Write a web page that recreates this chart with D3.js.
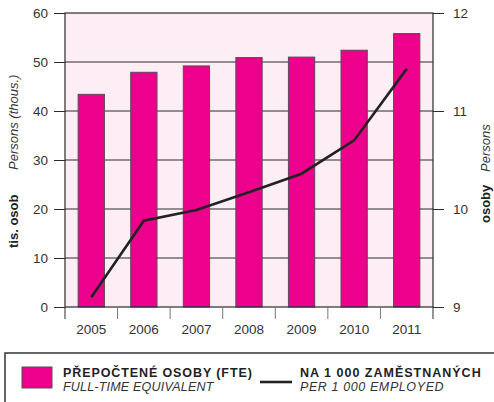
<!DOCTYPE html>
<html>
<head>
<meta charset="utf-8">
<script src="https://cdn.jsdelivr.net/npm/d3@7"></script>
<style>
  html, body { margin: 0; padding: 0; background: #fff; }
  svg { display: block; font-family: 'Liberation Sans', Arial, sans-serif; }
</style>
</head>
<body>
<svg id="chart" width="494" height="402"></svg>
<script>
// data
const years = ['2005', '2006', '2007', '2008', '2009', '2010', '2011'];
const fte = [43.4, 47.9, 49.2, 50.9, 51.0, 52.4, 55.8];          // tis. osob
const perThousand = [9.1, 9.88, 9.99, 10.17, 10.36, 10.70, 11.43]; // na 1 000 zaměstnaných
const leftTicks = [0, 10, 20, 30, 40, 50, 60];
const rightTicks = [9, 10, 11, 12];

const PINK = '#ec008c';
const BG = '#fdedf5';
const INK = '#2b2b2b';
const FONT = "'Liberation Sans', Arial, sans-serif";

const svg = d3.select('#chart');
const margin = { top: 13, right: 61, bottom: 95, left: 65 };
const W = 494, H = 402;
const width = W - margin.left - margin.right;
const height = H - margin.top - margin.bottom;

const g = svg.append('g').attr('transform', `translate(${margin.left},${margin.top})`);

const x = d3.scaleBand().domain(years).range([0, width]).paddingInner(0.5).paddingOuter(0.25);
const xOuter = d3.scaleBand().domain(years).range([0, width]).padding(0);
const yL = d3.scaleLinear().domain([0, 60]).range([height, 0]);
const yR = d3.scaleLinear().domain([9, 12]).range([height, 0]);

// plot background
g.append('rect')
    .attr('width', width).attr('height', height)
    .attr('fill', BG);

// grid lines
g.append('g')
    .selectAll('line')
    .data(leftTicks.slice(1, -1))
    .join('line')
    .attr('x1', 0).attr('x2', width)
    .attr('y1', d => yL(d)).attr('y2', d => yL(d))
    .attr('stroke', INK).attr('stroke-width', 1);

// bars
g.selectAll('.bar')
    .data(fte)
    .join('rect')
    .attr('class', 'bar')
    .attr('x', (d, i) => x(years[i]))
    .attr('width', x.bandwidth())
    .attr('y', d => yL(d))
    .attr('height', d => height - yL(d))
    .attr('fill', PINK)
    .attr('stroke', '#5e4a55')
    .attr('stroke-width', 1);

// frame
g.append('rect')
    .attr('width', width).attr('height', height)
    .attr('fill', 'none')
    .attr('stroke', INK).attr('stroke-width', 1.2);

const styleTicks = ax => ax.selectAll('.tick text')
    .attr('font-size', '13.5px').attr('fill', '#333').attr('font-family', FONT);

// left axis
g.append('g')
    .call(d3.axisLeft(yL).tickValues(leftTicks).tickSize(11).tickPadding(6))
    .call(ax => ax.select('.domain').remove())
    .call(ax => ax.selectAll('.tick line').attr('stroke', INK))
    .call(styleTicks);

// right axis
g.append('g')
    .attr('transform', `translate(${width},0)`)
    .call(d3.axisRight(yR).tickValues(rightTicks).tickSize(11).tickPadding(9).tickFormat(d3.format('d')))
    .call(ax => ax.select('.domain').remove())
    .call(ax => ax.selectAll('.tick line').attr('stroke', INK))
    .call(styleTicks);

// bottom axis — labels at band centres, ticks at band boundaries
g.append('g')
    .attr('transform', `translate(0,${height})`)
    .call(d3.axisBottom(xOuter).tickSize(0).tickPadding(17))
    .call(ax => ax.select('.domain').remove())
    .call(styleTicks);

const bounds = years.map(d => xOuter(d)).concat([width]);
g.append('g')
    .selectAll('line')
    .data(bounds)
    .join('line')
    .attr('x1', d => d).attr('x2', d => d)
    .attr('y1', height).attr('y2', height + 12)
    .attr('stroke', (d, i) => (i === 0 || i === bounds.length - 1) ? INK : '#777')
    .attr('stroke-width', 1);

// line series
const line = d3.line()
    .x((d, i) => x(years[i]) + x.bandwidth() / 2)
    .y(d => yR(d));

g.append('path')
    .datum(perThousand)
    .attr('fill', 'none')
    .attr('stroke', '#222')
    .attr('stroke-width', 2.6)
    .attr('d', line);

// axis titles
const leftTitle = svg.append('g').attr('transform', 'translate(18,248) rotate(-90)');
leftTitle.append('text')
    .attr('font-size', '13px').attr('font-weight', 'bold').attr('fill', '#222')
    .text('tis. osob');
leftTitle.append('text')
    .attr('x', 78)
    .attr('font-size', '13px').attr('font-style', 'italic').attr('fill', '#333')
    .text('Persons (thous.)');

const rightTitle = svg.append('g').attr('transform', 'translate(490,223) rotate(-90)');
rightTitle.append('text')
    .attr('font-size', '13px').attr('font-weight', 'bold').attr('fill', '#222')
    .text('osoby');
rightTitle.append('text')
    .attr('x', 51)
    .attr('font-size', '13px').attr('font-style', 'italic').attr('fill', '#333')
    .text('Persons');

// legend
const lg = svg.append('g');
lg.append('rect')
    .attr('x', 5).attr('y', 353).attr('width', 520).attr('height', 80)
    .attr('fill', 'none').attr('stroke', '#333').attr('stroke-width', 1.5);
lg.append('rect')
    .attr('x', 22).attr('y', 367).attr('width', 30).attr('height', 21)
    .attr('fill', PINK).attr('stroke', '#5e4a55').attr('stroke-width', 1);
lg.append('text')
    .attr('x', 63).attr('y', 377)
    .attr('font-size', '12.5px').attr('font-weight', 'bold').attr('fill', '#222')
    .attr('letter-spacing', '0.9px')
    .text('PŘEPOČTENÉ OSOBY (FTE)');
lg.append('text')
    .attr('x', 63).attr('y', 391)
    .attr('font-size', '12.5px').attr('font-style', 'italic').attr('fill', '#333')
    .attr('letter-spacing', '0.2px')
    .text('FULL-TIME EQUIVALENT');
lg.append('line')
    .attr('x1', 260).attr('x2', 292).attr('y1', 382).attr('y2', 382)
    .attr('stroke', '#222').attr('stroke-width', 2.6);
lg.append('text')
    .attr('x', 300).attr('y', 377)
    .attr('font-size', '12.5px').attr('font-weight', 'bold').attr('fill', '#222')
    .attr('letter-spacing', '1px')
    .text('NA 1 000 ZAMĚSTNANÝCH');
lg.append('text')
    .attr('x', 300).attr('y', 391)
    .attr('font-size', '12.5px').attr('font-style', 'italic').attr('fill', '#333')
    .attr('letter-spacing', '0.6px')
    .text('PER 1 000 EMPLOYED');
</script>
</body>
</html>
